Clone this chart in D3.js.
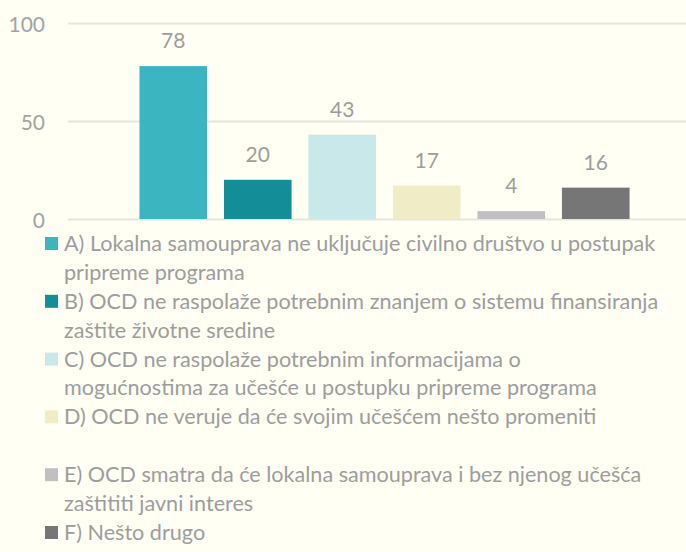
<!DOCTYPE html>
<html>
<head>
<meta charset="utf-8">
<script src="https://cdn.jsdelivr.net/npm/d3@7"></script>
<style>
  body { margin: 0; background: #fffff3; }
  svg { display: block; }
</style>
</head>
<body>
<div id="chart"></div>
<script>
const categories = ['A', 'B', 'C', 'D', 'E', 'F'];
const values = [78, 20, 43, 17, 4, 16];
const colors = ['#3bb5bf', '#138d98', '#c8e8ea', '#f0ecc6', '#c0c0c0', '#767676'];
const yTicks = [0, 50, 100];
// legend lines per category; '' marks the empty row Excel left after D
const legendLines = [
    ['A) Lokalna samouprava ne uključuje civilno društvo u postupak', 'pripreme programa'],
    ['B) OCD ne raspolaže potrebnim znanjem o sistemu finansiranja', 'zaštite životne sredine'],
    ['C) OCD ne raspolaže potrebnim informacijama o', 'mogućnostima za učešće u postupku pripreme programa'],
    ['D) OCD ne veruje da će svojim učešćem nešto promeniti', ''],
    ['E) OCD smatra da će lokalna samouprava i bez njenog učešća', 'zaštititi javni interes'],
    ['F) Nešto drugo'],
];

const width = 686;
const height = 552;
const font = 'Lato, "Open Sans", sans-serif';
const gray = '#9d9d9d';

const x = d3.scaleBand()
    .domain(categories)
    .range([131, 638])
    .paddingInner(0.2)
    .paddingOuter(0.1);

const y = d3.scaleLinear()
    .domain([0, 100])
    .range([219, 23]);

const svg = d3.select('#chart').append('svg')
    .attr('width', width)
    .attr('height', height)
    .style('font-family', font);

svg.append('rect').attr('width', width).attr('height', height).attr('fill', '#fffff3');

// grid + y labels
const yAxis = g => g
    .attr('transform', 'translate(68,0)')
    .call(d3.axisLeft(y).tickValues(yTicks).tickSize(-(width - 68)).tickPadding(23))
    .call(g => g.select('.domain').remove())
    .call(g => g.selectAll('.tick line').attr('stroke', '#e6e6df').attr('stroke-width', 2))
    .call(g => g.selectAll('.tick text')
        .attr('fill', '#a3a3a3').attr('font-size', 21).attr('font-family', font)
        .attr('dy', null).attr('y', 8));

svg.append('g').call(yAxis);

const data = categories.map((c, i) => ({cat: c, value: values[i], color: colors[i]}));

svg.append('g').selectAll('rect')
    .data(data)
    .join('rect')
    .attr('x', d => x(d.cat))
    .attr('y', d => y(d.value))
    .attr('width', x.bandwidth())
    .attr('height', d => y(0) - y(d.value))
    .attr('fill', d => d.color);

svg.append('g').selectAll('text')
    .data(data)
    .join('text')
    .attr('x', d => x(d.cat) + x.bandwidth() / 2)
    .attr('y', d => y(d.value) - 18)
    .attr('text-anchor', 'middle')
    .attr('fill', gray)
    .attr('font-size', 21)
    .text(d => d.value);

// legend
const lineH = 28.9;
const legend = svg.append('g').attr('transform', 'translate(45,251)');
let row = 0;
legendLines.forEach((lines, i) => {
    const g = legend.append('g').attr('transform', `translate(0,${row * lineH})`);
    g.append('rect')
        .attr('x', 0).attr('y', -14)
        .attr('width', 13).attr('height', 13)
        .attr('fill', colors[i]);
    g.selectAll('text')
        .data(lines)
        .join('text')
        .attr('x', 19)
        .attr('y', (d, j) => j * lineH)
        .attr('fill', gray)
        .attr('font-size', 21.6)
        .text(d => d);
    row += lines.length;
});
</script>
</body>
</html>
